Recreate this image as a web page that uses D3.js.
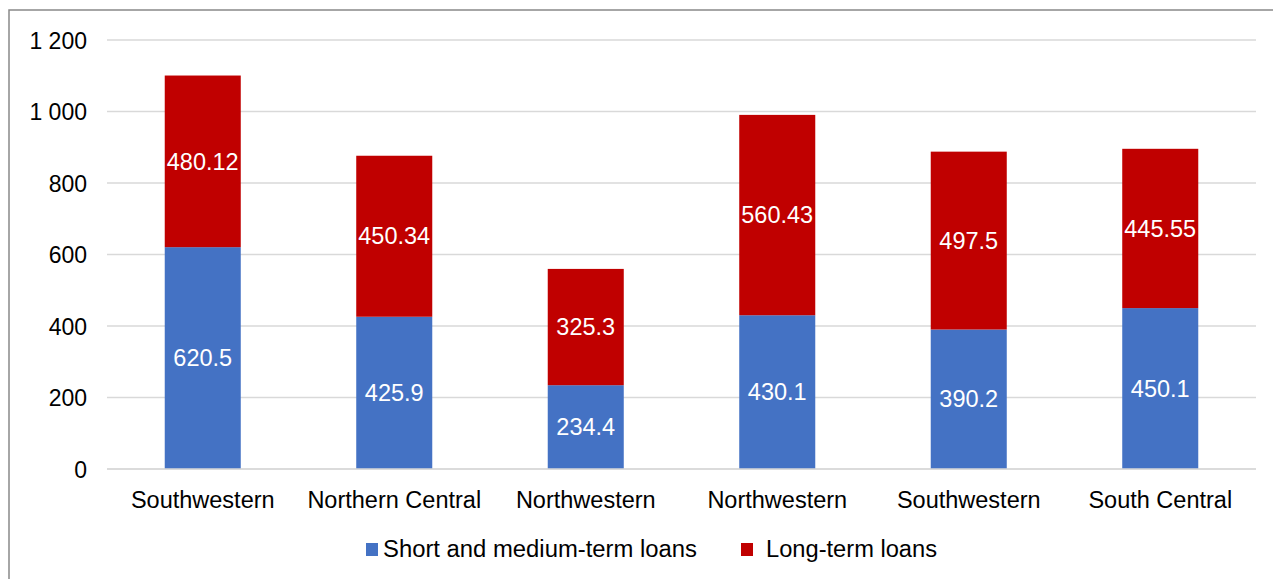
<!DOCTYPE html>
<html><head><meta charset="utf-8">
<script src="https://cdn.jsdelivr.net/npm/d3@7"></script>
<style>body{margin:0;background:#fff}svg{display:block}</style>
</head><body>
<svg id="c" width="1273" height="579"></svg>
<script>
const categories = ["Southwestern","Northern Central","Northwestern","Northwestern","Southwestern","South Central"];
const shortMedium = [620.5, 425.9, 234.4, 430.1, 390.2, 450.1];
const longTerm = [480.12, 450.34, 325.3, 560.43, 497.5, 445.55];
const seriesNames = ["Short and medium-term loans","Long-term loans"];
const yTicks = [0,200,400,600,800,1000,1200];
const colors = ["#4472C4","#C00000"];

const svg = d3.select("#c");
const W=1273,H=579;
svg.append("rect").attr("x",9).attr("y",10).attr("width",W).attr("height",H)
  .attr("fill","#fff").attr("stroke","#898989").attr("stroke-width",1.5);

const x0=107,x1=1256,yTop=40,yBot=469;
const x = d3.scaleBand().domain(d3.range(categories.length)).range([x0,x1]).paddingInner(0.603).paddingOuter(0.3015);
const y = d3.scaleLinear().domain([0,1200]).range([yBot,yTop]);
const font="Liberation Sans, Arial, sans-serif";

svg.append("g").selectAll("line").data(yTicks).join("line")
  .attr("x1",x0).attr("x2",x1).attr("y1",d=>y(d)).attr("y2",d=>y(d))
  .attr("stroke","#d9d9d9").attr("stroke-width",1.5);

const fmt = d=> d>=1000 ? d3.format(",")(d).replace(","," ") : String(d);
const yAxis = d3.axisLeft(y).tickValues(yTicks).tickFormat(fmt).tickSize(0).tickPadding(0);
const ga = svg.append("g").attr("transform","translate(87,0)").call(yAxis);
ga.select(".domain").remove();
ga.selectAll("text").attr("font-family",font).attr("font-size",23).attr("fill","#000").attr("dy","0.35em");

const stackData = categories.map((c,i)=>({i, a:shortMedium[i], b:longTerm[i]}));
const stack = d3.stack().keys(["a","b"])(stackData);

stack.forEach((layer,k)=>{
  const g = svg.append("g");
  g.selectAll("rect").data(layer).join("rect")
    .attr("x",d=>x(d.data.i)).attr("width",x.bandwidth())
    .attr("y",d=>y(d[1])).attr("height",d=>y(d[0])-y(d[1]))
    .attr("fill",colors[k]);
  g.selectAll("text").data(layer).join("text")
    .attr("x",d=>x(d.data.i)+x.bandwidth()/2)
    .attr("y",d=>(y(d[0])+y(d[1]))/2)
    .attr("dy","0.35em").attr("text-anchor","middle")
    .attr("font-family",font).attr("font-size",23.5).attr("fill","#fff")
    .text(d=>String(k===0?d.data.a:d.data.b));
});

const xAxis = d3.axisBottom(x).tickFormat(i=>categories[i]).tickSize(0).tickPadding(0);
const gx = svg.append("g").attr("transform",`translate(0,${yBot})`).call(xAxis);
gx.select(".domain").attr("stroke","#d9d9d9").attr("stroke-width",1.5).attr("d",`M${x0},0H${x1}`);
gx.selectAll("text").attr("font-family",font).attr("font-size",23.5).attr("fill","#000").attr("dy",null).attr("y",39);

const leg = [{x:366,tx:383,len:314},{x:741,tx:766,len:171}];
seriesNames.forEach((n,k)=>{
  svg.append("rect").attr("x",leg[k].x).attr("y",543).attr("width",12).attr("height",13).attr("fill",colors[k]);
  svg.append("text").attr("x",leg[k].tx).attr("y",549).attr("dy","0.35em")
    .attr("font-family",font).attr("font-size",23).attr("fill","#000")
    .attr("textLength",leg[k].len).attr("lengthAdjust","spacingAndGlyphs").text(n);
});
</script>
</body></html>
